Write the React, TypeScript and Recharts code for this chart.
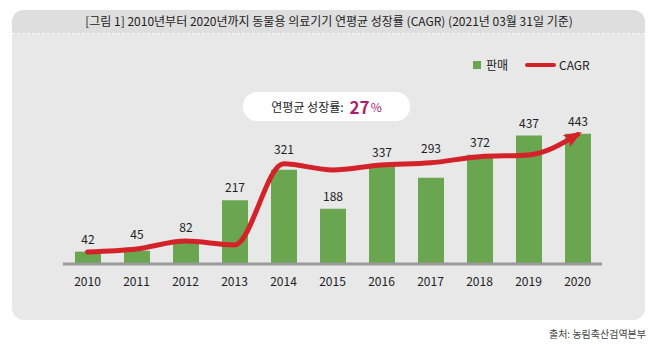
import { ComposedChart, Bar, Line, XAxis, YAxis, LabelList } from 'recharts'

// 2010~2020 동물용 의료기기 판매 및 CAGR 추세선
const years = ['2010', '2011', '2012', '2013', '2014', '2015', '2016', '2017', '2018', '2019', '2020']
const sales = [42, 45, 82, 217, 321, 188, 337, 293, 372, 437, 443]
const cagrTrend = [41, 51, 78, 65, 341, 320, 337, 344, 365, 371, 440]

const data = years.map((year, i) => ({ year, sales: sales[i], cagr: cagrTrend[i] }))

const FONT = '"Noto Sans CJK KR", "Noto Sans", sans-serif'
const GREEN = '#6aa64f'
const RED = '#d3222a'

if (typeof document !== 'undefined') document.body.style.margin = '0'

// value label sits above the bar; lifted over the trend line only when the line runs just above the bar
function SalesLabel(props: any) {
  const { x, y, width, height, value, index } = props
  const perUnit = value ? height / value : 0
  const lineY = y + height - cagrTrend[index] * perUnit
  const top = lineY < y && lineY > y - 25 ? lineY - 2 : y
  return (
    <text x={x + width / 2} y={top - 8} textAnchor="middle" fontSize={12} fill="#222" fontFamily={FONT}>
      {value}
    </text>
  )
}

export default function App() {
  return (
    <div style={{ position: 'relative', width: 658, height: 350, background: '#fff', fontFamily: FONT, overflow: 'hidden' }}>
      {/* panel */}
      <div style={{ position: 'absolute', left: 12, top: 10, width: 633, height: 310, background: '#e8e8e9', borderRadius: 12 }} />
      <div style={{ position: 'absolute', left: 12, top: 10, width: 633, height: 23, background: '#dedede', borderRadius: '12px 12px 0 0', borderBottom: '1px dashed #fafafa' }} />
      <div style={{ position: 'absolute', left: 0, top: 12, width: 658, textAlign: 'center', fontSize: 12, fontWeight: 400, color: '#222' }}>
        [그림 1] 2010년부터 2020년까지 동물용 의료기기 연평균 성장률 (CAGR) (2021년 03월 31일 기준)
      </div>

      {/* legend */}
      <div style={{ position: 'absolute', left: 473, top: 61, width: 8, height: 8, background: GREEN }} />
      <div style={{ position: 'absolute', left: 486, top: 56, fontSize: 12, color: '#222' }}>판매</div>
      <div style={{ position: 'absolute', left: 525, top: 63, width: 31, height: 4, background: RED, borderRadius: 2 }} />
      <div style={{ position: 'absolute', left: 559, top: 56, fontSize: 12, color: '#222' }}>CAGR</div>

      {/* callout */}
      <div style={{ position: 'absolute', left: 243, top: 92, width: 167, height: 29, background: '#fff', borderRadius: 14, display: 'flex', alignItems: 'center', justifyContent: 'center', whiteSpace: 'nowrap' }}>
        <span style={{ fontSize: 12, color: '#222' }}>연평균 성장률:</span>
        <span style={{ fontSize: 17, fontWeight: 700, color: '#a8236c', marginLeft: 6 }}>27</span>
        <span style={{ fontSize: 12, color: '#a8236c', marginLeft: 1 }}>%</span>
      </div>

      <svg width={0} height={0} style={{ position: 'absolute' }}>
        <defs>
          <marker id="cagrArrow" markerUnits="userSpaceOnUse" markerWidth={18} markerHeight={14} refX={13} refY={7} orient="auto">
            <path d="M0,0 L18,7 L0,14 L4,7 z" fill={RED} />
          </marker>
        </defs>
      </svg>

      <div style={{ position: 'absolute', left: 0, top: 0 }}>
        <ComposedChart width={658} height={350} data={data} margin={{ top: 117, right: 56, left: 63, bottom: 56 }} barCategoryGap={0}>
          <XAxis
            dataKey="year"
            height={30}
            axisLine={{ stroke: '#9a9a9a', strokeWidth: 3 }}
            tickLine={false}
            tickSize={0}
            tickMargin={13}
            tick={{ fontSize: 12, fill: '#222', fontFamily: FONT }}
          />
          <YAxis hide domain={[0, 500]} />
          <Bar dataKey="sales" fill={GREEN} barSize={26} isAnimationActive={false}>
            <LabelList dataKey="sales" content={SalesLabel} />
          </Bar>
          <Line
            dataKey="cagr"
            type="monotone"
            stroke={RED}
            strokeWidth={5}
            strokeLinecap="round"
            dot={false}
            activeDot={false}
            markerEnd="url(#cagrArrow)"
            isAnimationActive={false}
          />
        </ComposedChart>
      </div>

      <div style={{ position: 'absolute', right: 12, top: 326, fontSize: 10, color: '#444' }}>출처: 농림축산검역본부</div>
    </div>
  )
}
